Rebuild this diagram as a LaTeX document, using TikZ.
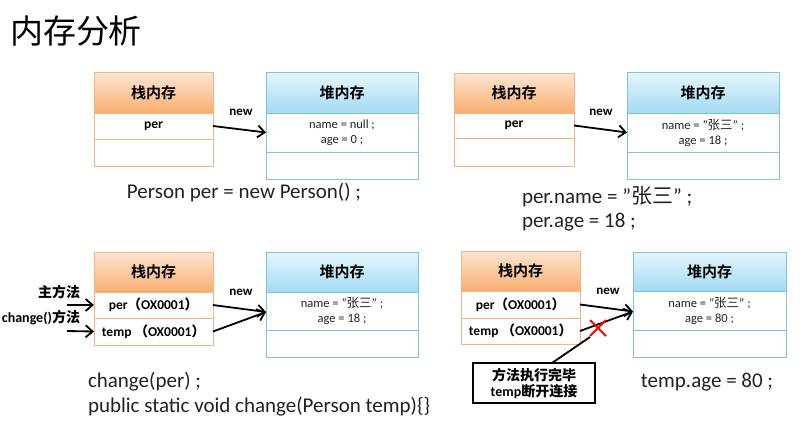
\documentclass[tikz,border=0pt]{standalone}
\usepackage{fontspec}
\setmainfont{Carlito}
\newfontfamily\cjk{Noto Sans CJK SC}
\newfontfamily\cjkb{Noto Sans CJK SC Bold}
\usetikzlibrary{arrows.meta}
\definecolor{stkline}{HTML}{F4B383}
\definecolor{stktop}{HTML}{FDE6D2}
\definecolor{stkbot}{HTML}{F8AE70}
\definecolor{heapline}{HTML}{7CC3E0}
\definecolor{heaptop}{HTML}{E6F6FD}
\definecolor{heapbot}{HTML}{A3DAF2}
\definecolor{txt}{HTML}{222222}
\begin{document}
\begin{tikzpicture}[x=1pt,y=-1pt,
  every node/.style={inner sep=0pt,outer sep=0pt},
  box/.style={draw,line width=1pt,anchor=north west,align=center,fill=white},
  stkhead/.style={box,draw=stkline,top color=stktop,bottom color=stkbot,font=\cjkb\fontsize{15}{17}\selectfont},
  stkrow/.style={box,draw=stkline,font=\bfseries\fontsize{13.5}{15}\selectfont},
  heaphead/.style={box,draw=heapline,top color=heaptop,bottom color=heapbot,font=\cjkb\fontsize{15}{17}\selectfont},
  heaprow/.style={box,draw=heapline,font=\fontsize{12.5}{15}\selectfont,text=txt},
  arr/.style={line width=1.8pt,-{Straight Barb[length=7pt,width=12pt,line width=1.8pt]}},
  newlbl/.style={font=\bfseries\fontsize{13}{15}\selectfont},
  code/.style={font=\fontsize{21}{25}\selectfont,text=txt},
  side/.style={font=\bfseries\fontsize{14}{16}\selectfont,anchor=east}
]
\useasboundingbox (0,0) rectangle (809,434);
\fill[white] (0,0) rectangle (809,434);

% title
\node[anchor=west,font=\cjk\fontsize{33}{36}\selectfont] (title) at (10,31) {内存分析};

% ---------- panel 1 ----------
\node[stkhead,minimum width=119pt,minimum height=41pt] (s1h) at (94,72) {栈内存};
\node[stkrow,minimum width=119pt,minimum height=26pt] (s1a) at (s1h.south west) {per};
\node[stkrow,minimum width=119pt,minimum height=27pt] (s1b) at (s1a.south west) {};
\node[heaphead,minimum width=152pt,minimum height=41pt] (h1h) at (266,72) {堆内存};
\node[heaprow,minimum width=152pt,minimum height=39pt] (h1a) at (h1h.south west) {name = null ;\\age = 0 ;};
\node[heaprow,minimum width=152pt,minimum height=27pt] (h1b) at (h1a.south west) {};
\draw[arr] (s1a.east) -- (h1a.west);
\node[newlbl] (n1) at (241,112) {new};
\node[code] (c1) at (244,193) {Person per = new Person() ;};

% ---------- panel 2 ----------
\node[stkhead,minimum width=120pt,minimum height=40pt] (s2h) at (454,73) {栈内存};
\node[stkrow,minimum width=120pt,minimum height=25pt] (s2a) at (s2h.south west) {per};
\node[stkrow,minimum width=120pt,minimum height=28pt] (s2b) at (s2a.south west) {};
\node[heaphead,minimum width=152pt,minimum height=41pt] (h2h) at (627,72) {堆内存};
\node[heaprow,minimum width=152pt,minimum height=39pt] (h2a) at (h2h.south west) {name = "{\cjk 张三}" ;\\age = 18 ;};
\node[heaprow,minimum width=152pt,minimum height=27pt] (h2b) at (h2a.south west) {};
\draw[arr] (s2a.east) -- (h2a.west);
\node[newlbl] (n2) at (601,112) {new};
\node[code,anchor=west] (c2a) at (522,197) {per.name = "{\cjk 张三}" ;};
\node[code,anchor=west] (c2b) at (522,222) {per.age = 18 ;};

% ---------- panel 3 ----------
\node[stkhead,minimum width=119pt,minimum height=40pt] (s3h) at (94,252) {栈内存};
\node[stkrow,minimum width=119pt,minimum height=26pt] (s3a) at (s3h.south west) {per{\cjkb （}OX0001{\cjkb ）}};
\node[stkrow,minimum width=119pt,minimum height=27pt] (s3b) at (s3a.south west) {temp {\cjkb （}OX0001{\cjkb ）}};
\node[heaphead,minimum width=152pt,minimum height=40pt] (h3h) at (266,252) {堆内存};
\node[heaprow,minimum width=152pt,minimum height=38pt] (h3a) at (h3h.south west) {name = "{\cjk 张三}" ;\\age = 18 ;};
\node[heaprow,minimum width=152pt,minimum height=27pt] (h3b) at (h3a.south west) {};
\coordinate (t3) at ([yshift=-1pt]h3a.west);
\draw[arr] (s3a.east) -- (t3);
\draw[arr] (s3b.east) -- (t3);
\node[newlbl] (n3) at (241,292) {new};
\node[side] (m1) at (80,292) {\cjk 主方法};
\node[side] (m2) at (80,318) {change(){\cjk 方法}};
\coordinate (a1) at (67,305);
\coordinate (a2) at (67,331);
\draw[arr] (a1) -- (s3a.west);
\draw[arr] (a2) -- (s3b.west);
\node[code,anchor=west] (c3a) at (88,382) {change(per) ;};
\node[code,anchor=west] (c3b) at (88,407) {public static void change(Person temp)\{\}};

% ---------- panel 4 ----------
\node[stkhead,minimum width=119pt,minimum height=40pt] (s4h) at (461,251) {栈内存};
\node[stkrow,minimum width=119pt,minimum height=27pt] (s4a) at (s4h.south west) {per{\cjkb （}OX0001{\cjkb ）}};
\node[stkrow,minimum width=119pt,minimum height=26pt] (s4b) at (s4a.south west) {temp {\cjkb （}OX0001{\cjkb ）}};
\node[heaphead,minimum width=153pt,minimum height=39pt] (h4h) at (633,252) {堆内存};
\node[heaprow,minimum width=153pt,minimum height=39pt] (h4a) at (h4h.south west) {name = "{\cjk 张三}" ;\\age = 80 ;};
\node[heaprow,minimum width=153pt,minimum height=27pt] (h4b) at (h4a.south west) {};
\coordinate (t4) at ([yshift=-1pt]h4a.west);
\draw[arr] (s4a.east) -- (t4);
\draw[arr] (s4b.east) -- (t4);
\node[newlbl] (n4) at (608,291) {new};
\draw[red,line width=2pt] (590,320) -- (606,336) (590,336) -- (606,320);
\node[draw,line width=2pt,minimum width=122pt,minimum height=40pt,align=center,fill=white,
  font=\bfseries\fontsize{14}{16}\selectfont] (call) at (534,383) {{\cjkb 方法执行完毕}\\temp{\cjkb 断开连接}};
\coordinate (ce) at (590,337);
\draw[line width=1.8pt] ([xshift=18pt]call.north) -- (ce);
\node[code] (c4) at (707,382) {temp.age = 80 ;};
\end{tikzpicture}
\end{document}
